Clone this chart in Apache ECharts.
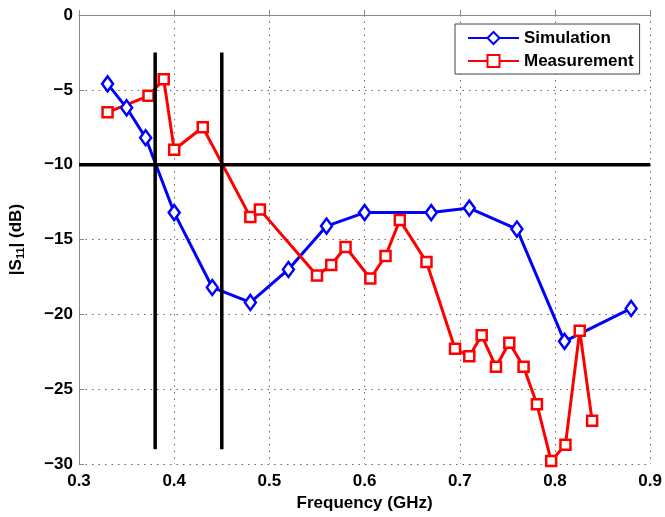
<!DOCTYPE html>
<html>
<head>
<meta charset="utf-8">
<script src="https://cdn.jsdelivr.net/npm/echarts@6/dist/echarts.min.js"></script>
<style>html,body{margin:0;padding:0;background:#fff;}#c{width:665px;height:517px;}</style>
</head>
<body>
<div id="c"></div>
<script>
// Simulation
var simFreq = [0.33, 0.35, 0.37, 0.40, 0.44, 0.48, 0.52, 0.56, 0.60, 0.67, 0.71, 0.76, 0.81, 0.88];
var simS11  = [-4.6, -6.2, -8.2, -13.2, -18.2, -19.2, -17.0, -14.1, -13.2, -13.2, -12.9, -14.3, -21.8, -19.6];
// Measurement
var measFreq = [0.33, 0.373, 0.389, 0.40, 0.43, 0.48, 0.49, 0.55, 0.565, 0.58, 0.606, 0.622, 0.637, 0.665, 0.695, 0.71, 0.723, 0.738, 0.752, 0.767, 0.781, 0.796, 0.811, 0.826, 0.839];
var measS11  = [-6.5, -5.4, -4.3, -9.0, -7.5, -13.5, -13.0, -17.4, -16.7, -15.5, -17.6, -16.1, -13.7, -16.5, -22.3, -22.8, -21.4, -23.5, -21.9, -23.5, -26.0, -29.8, -28.7, -21.1, -27.1];
// Reference lines
var vLine1 = [[0.38, -2.5], [0.38, -29]];
var vLine2 = [[0.45, -2.5], [0.45, -29]];
var hLine  = [[0.3, -10], [0.9, -10]];

function zip(a, b) { return a.map(function (v, i) { return [v, b[i]]; }); }

var font = 'Liberation Sans, Arial, sans-serif';
var chart = echarts.init(document.getElementById('c'), null, {renderer: 'canvas'});
chart.setOption({
  animation: false,
  backgroundColor: '#fff',
  grid: {left: 78, right: 12, top: 15, bottom: 48, containLabel: false},
  legend: {
    orient: 'vertical',
    left: 455, top: 24,
    data: ['Simulation', 'Measurement'],
    backgroundColor: '#fff',
    borderColor: '#444', borderWidth: 1,
    padding: [4, 6, 3, 12],
    itemWidth: 51, itemHeight: 15, itemGap: 3, itemTextGap: 6,
    textStyle: {fontFamily: font, fontWeight: 'bold', fontSize: 17, color: '#000', lineHeight: 20}
  },
  xAxis: {
    type: 'value', min: 0.3, max: 0.9, interval: 0.1,
    name: 'Frequency (GHz)', nameLocation: 'middle', nameGap: 27,
    nameTextStyle: {fontFamily: font, fontWeight: 'bold', fontSize: 17, color: '#000'},
    axisLine: {lineStyle: {color: '#888', width: 1}},
    axisTick: {inside: true, length: 5, lineStyle: {color: '#888'}},
    axisLabel: {fontFamily: font, fontWeight: 'bold', fontSize: 17, color: '#000', margin: 9,
      formatter: function (v) { return v.toFixed(1); }},
    splitLine: {show: true, lineStyle: {color: '#666', width: 1, type: [1.5, 5]}}
  },
  yAxis: {
    type: 'value', min: -30, max: 0, interval: 5,
    name: '|S{sub|11}| (dB)', nameLocation: 'middle', nameGap: 53, nameRotate: 90,
    nameTextStyle: {fontFamily: font, fontWeight: 'bold', fontSize: 17, color: '#000',
      rich: {sub: {fontFamily: font, fontWeight: 'bold', fontSize: 11, color: '#000', padding: [8, 0, 0, 0]}}},
    axisLine: {show: true, lineStyle: {color: '#888', width: 1}},
    axisTick: {show: true, inside: true, length: 5, lineStyle: {color: '#888'}},
    axisLabel: {fontFamily: font, fontWeight: 'bold', fontSize: 17, color: '#000', margin: 6,
      formatter: function (v) { return v < 0 ? '\u2212' + Math.abs(v) : String(v); }},
    splitLine: {show: true, lineStyle: {color: '#666', width: 1, type: [1.5, 5]}}
  },
  series: [
    {
      name: 'Simulation', type: 'line', data: zip(simFreq, simS11),
      symbol: 'diamond', symbolSize: [11, 15], showAllSymbol: true,
      lineStyle: {color: '#0000ff', width: 3},
      itemStyle: {color: '#fff', borderColor: '#0000ff', borderWidth: 2.5},
      z: 3
    },
    {
      name: 'Measurement', type: 'line', data: zip(measFreq, measS11),
      symbol: 'rect', symbolSize: 10, showAllSymbol: true,
      lineStyle: {color: '#ff0000', width: 3},
      itemStyle: {color: '#fff', borderColor: '#ff0000', borderWidth: 2.5},
      z: 3
    },
    {type: 'line', data: vLine1, symbol: 'none', lineStyle: {color: '#000', width: 3.5}, z: 4, silent: true},
    {type: 'line', data: vLine2, symbol: 'none', lineStyle: {color: '#000', width: 3.5}, z: 4, silent: true},
    {type: 'line', data: hLine, symbol: 'none', lineStyle: {color: '#000', width: 3.5}, z: 4, silent: true}
  ]
});
</script>
</body>
</html>
